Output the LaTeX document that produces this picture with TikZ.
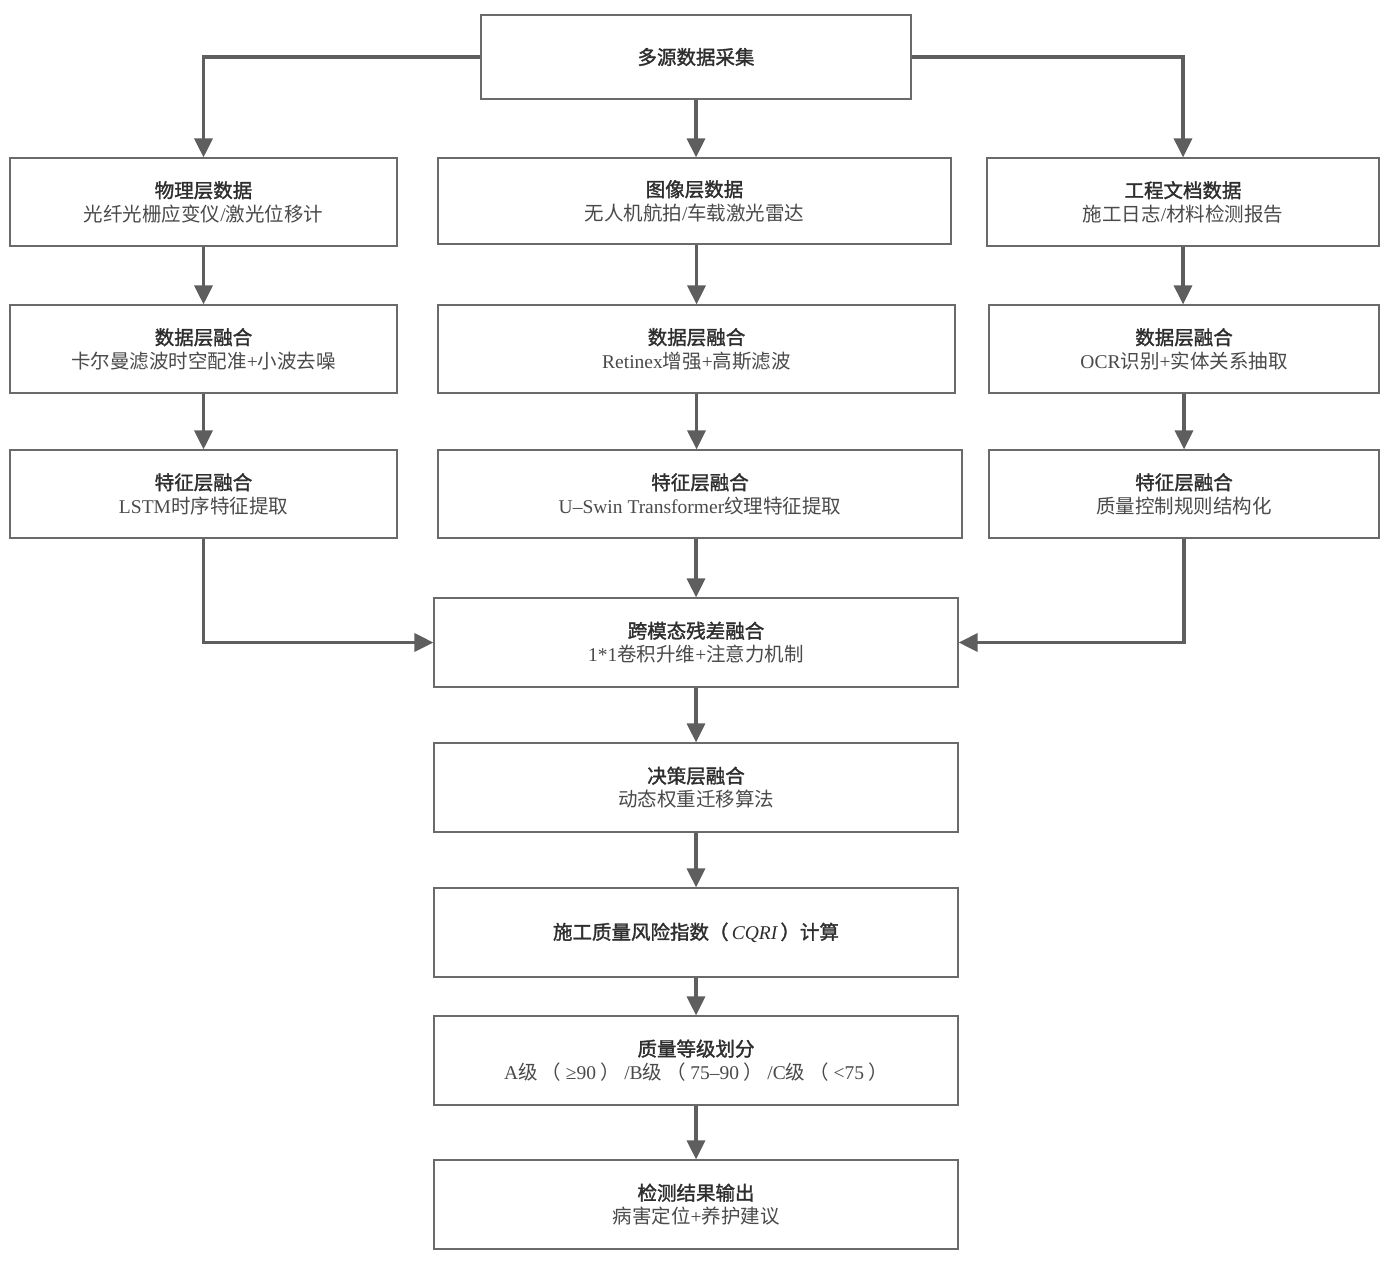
\documentclass[tikz,border=0pt]{standalone}
\usepackage{fontspec}
\setmainfont{Liberation Serif}
\newfontfamily\cjk{Noto Sans CJK SC}
\newfontfamily\cjkhead{Noto Sans CJK SC}[FakeBold=1.6]
\usepackage{tikz}
\usetikzlibrary{arrows.meta, positioning}
\definecolor{boxline}{HTML}{6A6A6A}
\definecolor{arrowgray}{HTML}{5E5E5E}
\definecolor{headtext}{HTML}{2E2E2E}
\definecolor{subtext}{HTML}{4A4A4A}
\newcommand{\lat}[1]{{\rmfamily #1}}
\newcommand{\hd}[1]{{\cjkhead\color{headtext}#1}}

\begin{document}
\begin{tikzpicture}[
    x=1pt, y=-1pt,
    stage/.style={draw=boxline, line width=1.2pt, fill=white, inner sep=0pt,
                  align=center, text=subtext,
                  font=\cjk\fontsize{19.5}{23.5}\selectfont},
    flow/.style={draw=arrowgray, line width=3.2pt,
                 -{Triangle[length=19pt, width=18pt]}},
  ]
  \useasboundingbox (0,0) rectangle (1383,1260);

  % acquisition
  \node[stage, minimum width=430pt, minimum height=84pt] (src) at (696,57) {\hd{多源数据采集}};

  % three sources
  \node[stage, minimum width=387pt, minimum height=88pt] (phy) at (203.5,202)
    {\hd{物理层数据}\\光纤光栅应变仪\lat{/}激光位移计};
  \node[stage, minimum width=513pt, minimum height=86pt] (img) at (694.5,201)
    {\hd{图像层数据}\\无人机航拍\lat{/}车载激光雷达};
  \node[stage, minimum width=392pt, minimum height=88pt] (doc) at (1183,202)
    {\hd{工程文档数据}\\施工日志\lat{/}材料检测报告};

  % data-level fusion
  \node[stage, minimum width=387pt, minimum height=88pt] (phyData) at (203.5,349)
    {\hd{数据层融合}\\卡尔曼滤波时空配准\lat{+}小波去噪};
  \node[stage, minimum width=517pt, minimum height=88pt] (imgData) at (696.5,349)
    {\hd{数据层融合}\\\lat{Retinex}增强\lat{+}高斯滤波};
  \node[stage, minimum width=390pt, minimum height=88pt] (docData) at (1184,349)
    {\hd{数据层融合}\\\lat{OCR}识别\lat{+}实体关系抽取};

  % feature-level fusion
  \node[stage, minimum width=387pt, minimum height=88pt] (phyFeat) at (203.5,494)
    {\hd{特征层融合}\\\lat{LSTM}时序特征提取};
  \node[stage, minimum width=524pt, minimum height=88pt] (imgFeat) at (700,494)
    {\hd{特征层融合}\\\lat{U--Swin Transformer}纹理特征提取};
  \node[stage, minimum width=390pt, minimum height=88pt] (docFeat) at (1184,494)
    {\hd{特征层融合}\\质量控制规则结构化};

  % central chain
  \node[stage, minimum width=524pt, minimum height=89pt] (fuse) at (696,642.5)
    {\hd{跨模态残差融合}\\\lat{1*1}卷积升维\lat{+}注意力机制};
  \node[stage, minimum width=524pt, minimum height=89pt] (decide) at (696,787.5)
    {\hd{决策层融合}\\动态权重迁移算法};
  \node[stage, minimum width=524pt, minimum height=89pt] (cqri) at (696,932.5)
    {\hd{施工质量风险指数（\,\lat{\itshape CQRI}\,）计算}};
  \node[stage, minimum width=524pt, minimum height=89pt] (grade) at (696,1060.5)
    {\hd{质量等级划分}\\\lat{A}级 （ \lat{≥90} ） \lat{/B}级 （ \lat{75--90} ） \lat{/C}级 （ \lat{<75} ）};
  \node[stage, minimum width=524pt, minimum height=89pt] (result) at (696,1204.5)
    {\hd{检测结果输出}\\病害定位\lat{+}养护建议};

  % connectors
  \draw[flow] (src.west) -| (phy.north);
  \draw[flow] (src.east) -| (doc.north);
  \draw[flow] (src.south) -- (src.south |- img.north);

  \draw[flow] (phy.south) -- (phyData.north);
  \draw[flow] (phyData.south) -- (phyFeat.north);
  \draw[flow] (img.south -| imgData.south) -- (imgData.north);
  \draw[flow] (imgData.south) -- (imgData.south |- imgFeat.north);
  \draw[flow] (doc.south) -- (doc.south |- docData.north);
  \draw[flow] (docData.south) -- (docFeat.north);

  \draw[flow] (phyFeat.south) |- (fuse.west);
  \draw[flow] (docFeat.south) |- (fuse.east);
  \draw[flow] (imgFeat.south -| fuse.north) -- (fuse.north);

  \draw[flow] (fuse.south) -- (decide.north);
  \draw[flow] (decide.south) -- (cqri.north);
  \draw[flow] (cqri.south) -- (grade.north);
  \draw[flow] (grade.south) -- (result.north);
\end{tikzpicture}
\end{document}
